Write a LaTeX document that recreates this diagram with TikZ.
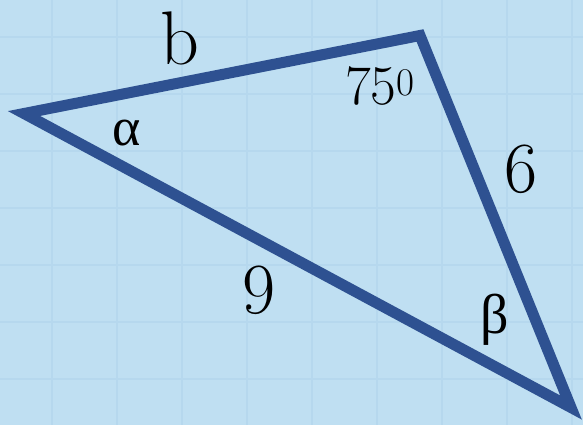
\documentclass[tikz,border=0pt]{standalone}
\usepackage{fontspec}
\usepackage{tikz}
\newfontfamily\greekfont{Liberation Serif}

\definecolor{triblue}{HTML}{2E5191}
\definecolor{paper}{HTML}{BFDFF2}
\definecolor{gridblue}{HTML}{B6D8EE}

\begin{document}
\begin{tikzpicture}[x=1pt, y=-1pt,
  side/.style={draw=triblue, line width=11pt, line join=miter},
  gridline/.style={draw=gridblue, line width=2pt},
  lab/.style={anchor=base, inner sep=0pt, text=black}]
\fill[paper] (0,0) rectangle (583,425);
\useasboundingbox (0,0) rectangle (583,425);
% faint grid behind the figure
\foreach \gx in {52,117,182,247,312,377,442,507,572}
  \draw[gridline] (\gx,0) -- (\gx,425);
\foreach \gy in {37,94,151,208,265,322,379}
  \draw[gridline] (0,\gy) -- (583,\gy);
% triangle
\coordinate (A) at (24,113.5);
\coordinate (B) at (420,35.5);
\coordinate (C) at (571,407.5);
\draw[side] (A) -- (B) -- (C) -- cycle;
% labels
\node[lab, font=\fontsize{76}{76}\selectfont] (lb) at (180,65) {b};
\node[lab, font=\fontsize{56}{56}\selectfont] (lang) at (380,105) {75\textsuperscript{0}};
\node[lab, font=\fontsize{72}{72}\selectfont] (lsix) at (521,192) {6};
\node[lab, font=\fontsize{72}{72}\selectfont] (lnine) at (259,313) {9};
\node[lab, font=\greekfont\fontsize{54}{54}\selectfont] (lalpha) at (127,145) {α};
\node[lab, font=\greekfont\fontsize{56}{56}\selectfont] (lbeta) at (495,333) {β};
\end{tikzpicture}
\end{document}
